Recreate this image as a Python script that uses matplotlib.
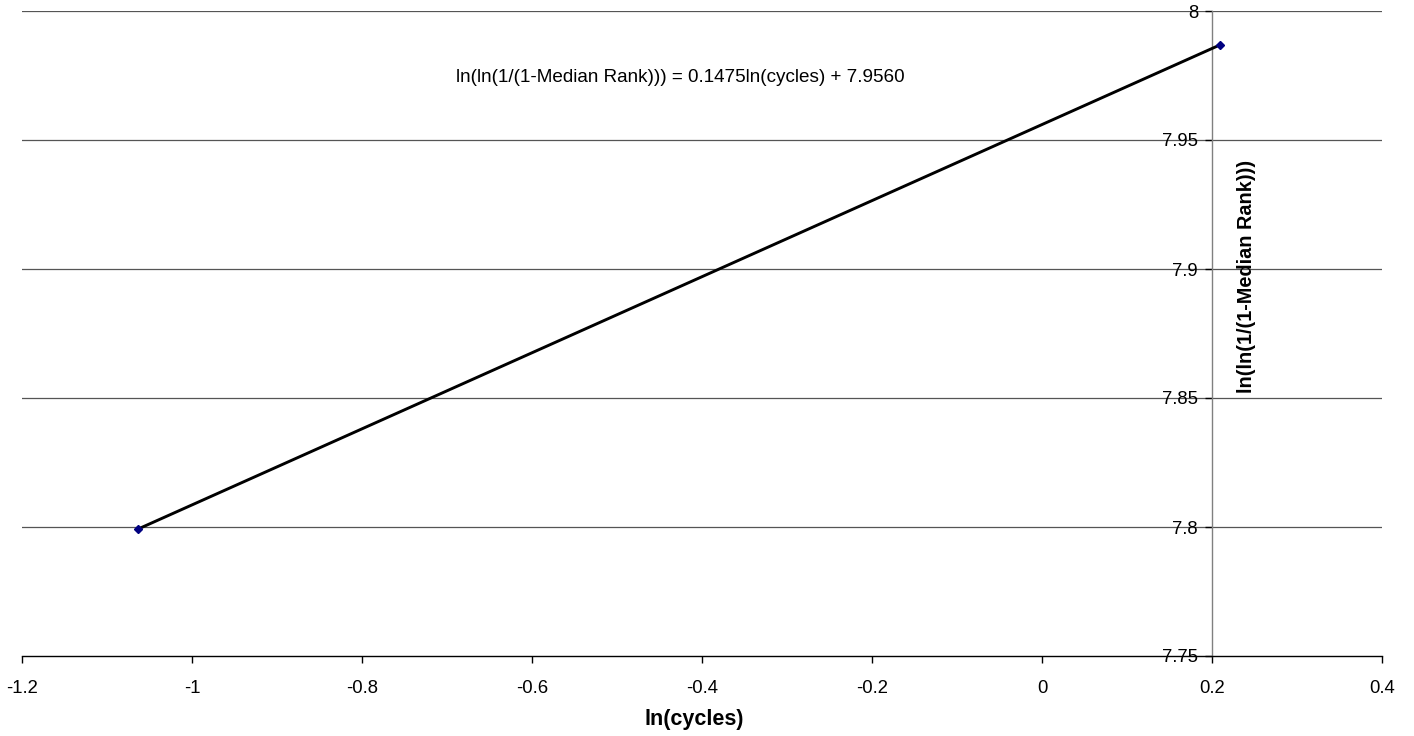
import matplotlib
matplotlib.use("Agg")
from matplotlib import pyplot as plt

plt.rcParams['font.family'] = ['Liberation Sans', 'DejaVu Sans']

# data
ln_cycles = [-1.0635, 0.2090]
ln_ln_rank = [7.7992, 7.9868]
x_ticks = [-1.2, -1, -0.8, -0.6, -0.4, -0.2, 0, 0.2, 0.4]
y_ticks = [7.75, 7.8, 7.85, 7.9, 7.95, 8]
equation = "ln(ln(1/(1-Median Rank))) = 0.1475ln(cycles) + 7.9560"

W, H = 1414, 736
fig = plt.figure(figsize=(W / 100, H / 100), dpi=100)
ax = fig.add_axes([22 / W, (H - 656) / H, 1360 / W, 645 / H])

ax.set_xlim(-1.2, 0.4)
ax.set_ylim(7.75, 8.0)

# gridlines
for y in y_ticks[1:]:
    ax.axhline(y, color='#555555', lw=0.9, zorder=1)

ax.plot(ln_cycles, ln_ln_rank, color='black', lw=2.1, zorder=3)
ax.plot(ln_cycles, ln_ln_rank, linestyle='none', marker='D', ms=4.5,
        color='#000080', zorder=4)

for s in ['top', 'right']:
    ax.spines[s].set_visible(False)
ax.spines['bottom'].set_color('black')
ax.spines['bottom'].set_linewidth(1.0)
ax.spines['left'].set_position(('data', 0.2))
ax.spines['left'].set_color('#808080')
ax.spines['left'].set_linewidth(1.0)

ax.set_xticks(x_ticks)
ax.set_xticklabels([f"{v:g}" for v in x_ticks])
ax.set_yticks(y_ticks)
ax.set_yticklabels([f"{v:g}" for v in y_ticks])
ax.tick_params(axis='x', direction='out', length=5, width=1, pad=12,
               labelsize=13.3)
ax.tick_params(axis='y', direction='out', length=5, width=1, pad=5,
               labelsize=13.3, color='black')

ax.set_xlabel("ln(cycles)", fontsize=15.5, fontweight='bold')
ax.xaxis.set_label_coords((694 - 22) / 1360, -(720 - 656) / 645)
ax.xaxis.label.set_va('center')
fig.text(1246 / W, (H - 276) / H, "ln(ln(1/(1-Median Rank)))", rotation=90,
         fontsize=14.3, fontweight='bold', ha='center', va='center')

fig.text(680 / W, (H - 77) / H, equation, fontsize=13.6,
         ha='center', va='center')

fig.savefig("out.png", dpi=100)
